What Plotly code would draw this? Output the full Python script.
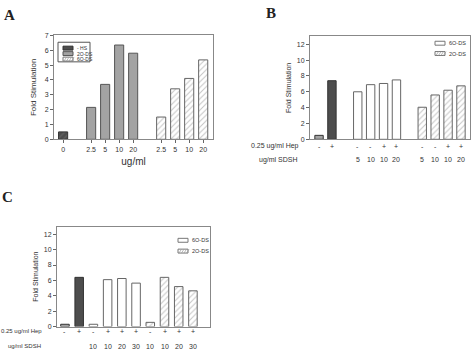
import plotly.graph_objects as go

# ---------------- data ----------------
# Panel A
A_hs = [0.5]
A_2ods = [2.15, 3.7, 6.35, 5.8]
A_6ods = [1.5, 3.4, 4.1, 5.35]
A_ticklabels = ["0", "2.5", "5", "10", "20", "2.5", "5", "10", "20"]
A_legend = ["- HS", "2O-DS", "6O-DS"]

# Panel B
B_ctrl = [0.5, 7.4]
B_6ods = [6.0, 6.9, 7.05, 7.5]
B_2ods = [4.05, 5.6, 6.2, 6.75]
B_hep = ["-", "+", "-", "-", "+", "+", "-", "-", "+", "+"]
B_sdsh = ["", "", "5", "10", "10", "20", "5", "10", "10", "20"]
B_legend = ["6O-DS", "2O-DS"]

# Panel C
C_ctrl = [0.3, 6.4]
C_6ods = [0.3, 6.1, 6.25, 5.65]
C_2ods = [0.55, 6.4, 5.2, 4.65]
C_hep = ["-", "+", "-", "+", "+", "+", "-", "+", "+", "+"]
C_sdsh = ["", "", "10", "10", "20", "30", "10", "10", "20", "30"]
C_legend = ["6O-DS", "2O-DS"]

# ---------------- styles ----------------
FONT = "Liberation Sans, Arial, sans-serif"
DARK = "#4d4d4d"
GRAY = "#a3a3a3"
EDGE = "#666666"
HATCH = dict(shape="/", fgcolor="#8a8a8a", bgcolor="white", size=4, solidity=0.25)

fig = go.Figure()

# slot positions
A_x_hs = [0]
A_x_2 = [2, 3, 4, 5]
A_x_6 = [7, 8, 9, 10]
B_x_ctrl = [0, 1]
B_x_6 = [3, 4, 5, 6]
B_x_2 = [8, 9, 10, 11]
C_x_ctrl = [0, 1]
C_x_6 = [2, 3, 4, 5]
C_x_2 = [6, 7, 8, 9]

# Panel A traces
fig.add_trace(go.Bar(x=A_x_hs, y=A_hs, name=A_legend[0], width=0.65,
                     marker=dict(color=DARK, line=dict(color="#333", width=1),
                                 pattern=dict(shape="/", fgcolor="#777", bgcolor=DARK, size=4, solidity=0.3)),
                     xaxis="x", yaxis="y"))
fig.add_trace(go.Bar(x=A_x_2, y=A_2ods, name=A_legend[1], width=0.65,
                     marker=dict(color=GRAY, line=dict(color="#555", width=1)),
                     xaxis="x", yaxis="y"))
fig.add_trace(go.Bar(x=A_x_6, y=A_6ods, name=A_legend[2], width=0.65,
                     marker=dict(color="white", line=dict(color=EDGE, width=1), pattern=HATCH),
                     xaxis="x", yaxis="y"))

# Panel B traces
fig.add_trace(go.Bar(x=B_x_ctrl, y=B_ctrl, width=0.65,
                     marker=dict(color=[GRAY, DARK], line=dict(color="#333", width=1)),
                     xaxis="x2", yaxis="y2"))
fig.add_trace(go.Bar(x=B_x_6, y=B_6ods, name=B_legend[0], width=0.65,
                     marker=dict(color="white", line=dict(color=EDGE, width=1)),
                     xaxis="x2", yaxis="y2"))
fig.add_trace(go.Bar(x=B_x_2, y=B_2ods, name=B_legend[1], width=0.65,
                     marker=dict(color="white", line=dict(color=EDGE, width=1), pattern=HATCH),
                     xaxis="x2", yaxis="y2"))

# Panel C traces
fig.add_trace(go.Bar(x=C_x_ctrl, y=C_ctrl, width=0.6,
                     marker=dict(color=[GRAY, DARK], line=dict(color="#333", width=1)),
                     xaxis="x3", yaxis="y3"))
fig.add_trace(go.Bar(x=C_x_6, y=C_6ods, name=C_legend[0], width=0.6,
                     marker=dict(color="white", line=dict(color=EDGE, width=1)),
                     xaxis="x3", yaxis="y3"))
fig.add_trace(go.Bar(x=C_x_2, y=C_2ods, name=C_legend[1], width=0.6,
                     marker=dict(color="white", line=dict(color=EDGE, width=1), pattern=HATCH),
                     xaxis="x3", yaxis="y3"))

W, H = 474, 359
def px(x): return x / W
def py(y): return 1 - y / H

axis_common = dict(showline=True, linecolor="#888", linewidth=1, mirror=True,
                   showgrid=False, zeroline=False, ticks="outside", ticklen=3,
                   tickcolor="#666", tickfont=dict(size=7, color="#333", family=FONT))
axis_noticks = {k: v for k, v in axis_common.items() if k != "ticks"}

fig.update_layout(
    width=W, height=H, margin=dict(l=0, r=0, t=0, b=0),
    paper_bgcolor="white", plot_bgcolor="white",
    font=dict(family=FONT, color="#333"),
    barmode="overlay", showlegend=False,
    xaxis=dict(domain=[px(54), px(213)], range=[-0.65, 10.7],
               tickvals=A_x_hs + A_x_2 + A_x_6, ticktext=A_ticklabels,
               title=dict(text="ug/ml", font=dict(size=10, color="#333"), standoff=6),
               anchor="y", **axis_common),
    yaxis=dict(domain=[py(138), py(32)], range=[0, 7], dtick=1,
               title=dict(text="Fold Stimulation", font=dict(size=8, color="#333"), standoff=6),
               anchor="x", **axis_common),
    xaxis2=dict(domain=[px(310), px(470)], range=[-0.7, 11.7],
                showticklabels=False, anchor="y2", ticks="", **axis_noticks),
    yaxis2=dict(domain=[py(138), py(33)], range=[0, 13], dtick=2,
                title=dict(text="Fold Stimulation", font=dict(size=7, color="#333"), standoff=4),
                anchor="x2", **axis_common),
    xaxis3=dict(domain=[px(57), px(210)], range=[-0.56, 10.2],
                showticklabels=False, anchor="y3", ticks="", **axis_noticks),
    yaxis3=dict(domain=[py(329), py(227)], range=[0, 13], dtick=2,
                title=dict(text="Fold Stimulation", font=dict(size=7, color="#333"), standoff=4),
                anchor="x3", **axis_common),
)

ann = []
shapes = []

# Panel letters
for letter, x, y in [("A", 9, 11), ("B", 271, 9), ("C", 8, 197)]:
    ann.append(dict(text="<b>%s</b>" % letter, x=px(x), y=py(y), xref="paper", yref="paper",
                    xanchor="center", yanchor="middle", showarrow=False,
                    font=dict(family="Liberation Serif, Times New Roman, serif",
                              size=15, color="#222")))

def rows(xs, hep, sdsh, xref, y_hep, y_sdsh, lab_right, fs):
    out = []
    out.append(dict(text="0.25 ug/ml Hep", x=px(lab_right), y=py(y_hep), xref="paper", yref="paper",
                    xanchor="right", yanchor="middle", showarrow=False, font=dict(size=fs, color="#333")))
    out.append(dict(text="ug/ml SDSH", x=px(lab_right - 1), y=py(y_sdsh), xref="paper", yref="paper",
                    xanchor="right", yanchor="middle", showarrow=False, font=dict(size=fs, color="#333")))
    for xv, h, s in zip(xs, hep, sdsh):
        out.append(dict(text=h, x=xv, y=py(y_hep), xref=xref, yref="paper", showarrow=False,
                        xanchor="center", yanchor="middle", font=dict(size=7, color="#333")))
        if s:
            out.append(dict(text=s, x=xv, y=py(y_sdsh), xref=xref, yref="paper", showarrow=False,
                            xanchor="center", yanchor="middle", font=dict(size=7, color="#333")))
    return out

ann += rows(B_x_ctrl + B_x_6 + B_x_2, B_hep, B_sdsh, "x2", 145, 159, 301, 7)
ann += rows(C_x_ctrl + C_x_6 + C_x_2, C_hep, C_sdsh, "x3", 334, 349, 44, 6)

# ---- compact legends (swatch + label) ----
def swatch(x0, yc, kind, w=10, h=4):
    x1 = x0 + w
    y0, y1 = yc - h / 2, yc + h / 2
    if kind == "dark":
        fill, line = DARK, "#333"
    elif kind == "gray":
        fill, line = GRAY, "#555"
    else:
        fill, line = "white", "#777"
    shapes.append(dict(type="rect", xref="paper", yref="paper",
                       x0=px(x0), x1=px(x1), y0=py(y1), y1=py(y0),
                       fillcolor=fill, line=dict(color=line, width=1)))
    if kind == "hatch":
        for k in range(4):
            sx = x0 + 1 + k * 2.5
            shapes.append(dict(type="line", xref="paper", yref="paper",
                               x0=px(sx), y0=py(y1), x1=px(sx + 2.5), y1=py(y0),
                               line=dict(color="#999", width=0.7)))

def legend(items, kinds, x0, y0, dy, tx, fs, box=None):
    if box:
        bx0, by0, bx1, by1 = box
        shapes.append(dict(type="rect", xref="paper", yref="paper",
                           x0=px(bx0), x1=px(bx1), y0=py(by1), y1=py(by0),
                           fillcolor="white", line=dict(color="#555", width=1)))
    for i, (name, kind) in enumerate(zip(items, kinds)):
        yc = y0 + i * dy
        swatch(x0, yc, kind)
        ann.append(dict(text=name, x=px(tx), y=py(yc), xref="paper", yref="paper",
                        xanchor="left", yanchor="middle", showarrow=False,
                        font=dict(size=fs, color="#333")))

legend(A_legend, ["dark", "gray", "hatch"], 63, 45, 5.6, 74.5, 5, box=(58, 39, 90, 59))
legend(B_legend, ["white", "hatch"], 435, 40, 10.5, 447, 5.5)
legend(C_legend, ["white", "hatch"], 178, 241, 11, 190, 5.5)

fig.update_layout(annotations=ann, shapes=shapes)
fig.write_html("out.html", config={"displayModeBar": False},
               post_script="document.body.style.margin='0px';document.body.style.overflow='hidden';")
